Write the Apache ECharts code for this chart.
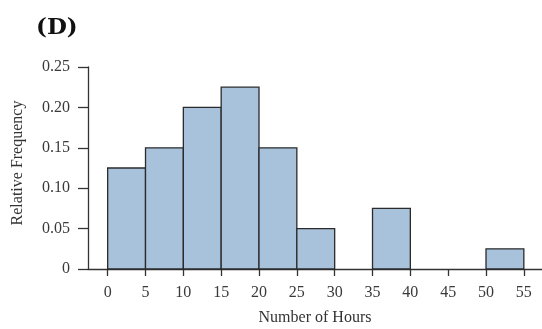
<!DOCTYPE html>
<html>
<head>
<meta charset="utf-8">
<script src="https://cdn.jsdelivr.net/npm/echarts@6/dist/echarts.min.js"></script>
<style>
html,body{margin:0;padding:0;background:#fff;}
#c{width:542px;height:329px;}
</style>
</head>
<body>
<div id="c"></div>
<script>
var binStarts = [0, 5, 10, 15, 20, 25, 30, 35, 40, 45, 50];
var binWidth = 5;
var relFreq = [0.125, 0.15, 0.2, 0.225, 0.15, 0.05, 0, 0.075, 0, 0, 0.025];
var xTicks = [0, 5, 10, 15, 20, 25, 30, 35, 40, 45, 50, 55];
var yTicks = [0, 0.05, 0.10, 0.15, 0.20, 0.25];

var data = [];
for (var i = 0; i < binStarts.length; i++) {
  if (relFreq[i] > 0) data.push([binStarts[i], binStarts[i] + binWidth, relFreq[i]]);
}
var serif = '"Liberation Serif", "DejaVu Serif", serif';
var chart = echarts.init(document.getElementById('c'), null, {renderer: 'canvas'});
chart.setOption({
  animation: false,
  title: {
    text: '(D)', left: 31, top: 12,
    textStyle: {fontFamily: '"DejaVu Serif", serif', fontWeight: 'bold', fontSize: 23, color: '#111'}
  },
  grid: {left: 88, right: 0, top: 67, bottom: 60, containLabel: false, outerBoundsMode: 'none'},
  xAxis: {
    type: 'value', min: -2.6, max: 57.4,
    name: 'Number of Hours', nameLocation: 'middle', nameGap: 41,
    nameTextStyle: {fontFamily: serif, fontSize: 16, color: '#333'},
    axisLine: {show: true, onZero: false, lineStyle: {color: '#333', width: 1.3}},
    axisTick: {show: true, customValues: xTicks, length: 7, lineStyle: {color: '#333', width: 1.3}},
    axisLabel: {customValues: xTicks, margin: 16, fontFamily: serif, fontSize: 16, color: '#3a3a3a'},
    splitLine: {show: false}
  },
  yAxis: {
    type: 'value', min: 0, max: 0.25, interval: 0.05,
    name: 'Relative Frequency', nameLocation: 'middle', nameGap: 62, nameRotate: 90,
    nameTextStyle: {fontFamily: serif, fontSize: 16, color: '#333', padding: [0, 0, 0, 10]},
    axisLine: {show: true, onZero: false, lineStyle: {color: '#333', width: 1.3}},
    axisTick: {show: true, length: 10, lineStyle: {color: '#333', width: 1.3}},
    axisLabel: {
      margin: 18, fontFamily: serif, fontSize: 16, color: '#3a3a3a',
      formatter: function (v) { return v === 0 ? '0' : v.toFixed(2); }
    },
    splitLine: {show: false}
  },
  series: [{
    type: 'custom',
    data: data,
    encode: {x: [0, 1], y: 2},
    renderItem: function (params, api) {
      var p0 = api.coord([api.value(0), 0]);
      var p1 = api.coord([api.value(1), api.value(2)]);
      return {
        type: 'rect',
        shape: {x: p0[0], y: p1[1], width: p1[0] - p0[0], height: p0[1] - p1[1]},
        style: {fill: '#a8c2dc', stroke: '#2b2b2b', lineWidth: 1.3}
      };
    }
  }]
});
</script>
</body>
</html>
